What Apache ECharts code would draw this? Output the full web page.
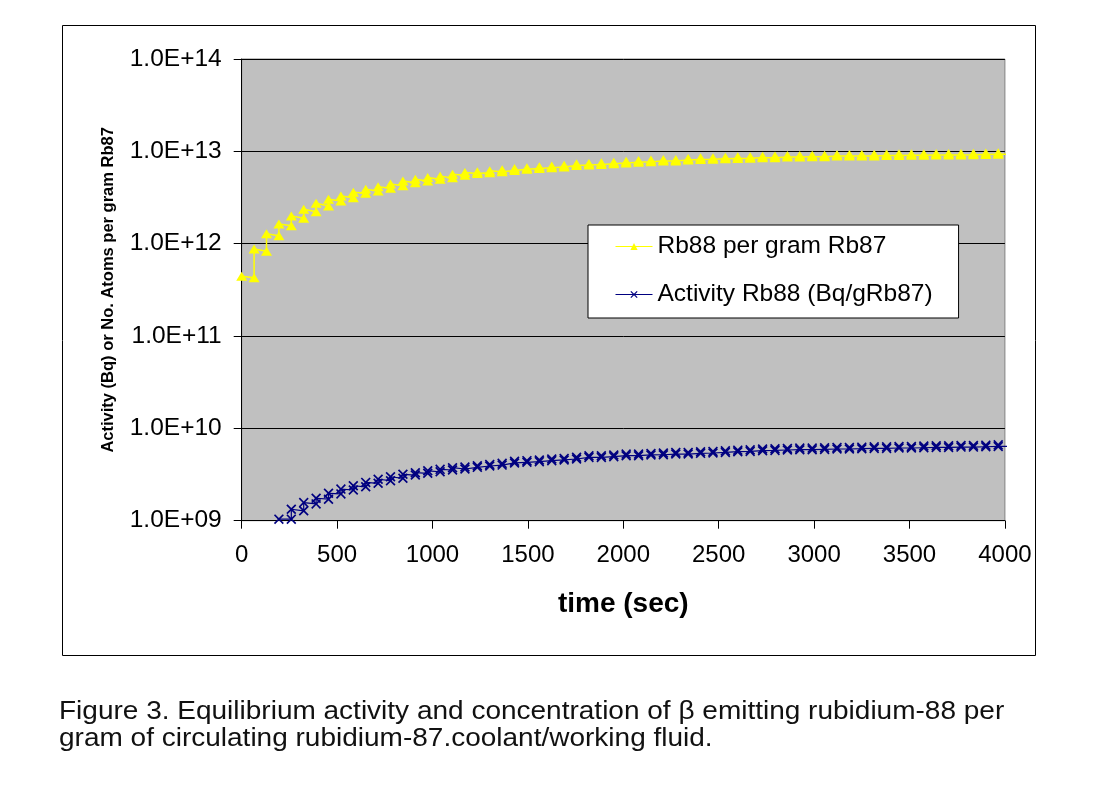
<!DOCTYPE html>
<html>
<head>
<meta charset="utf-8">
<script src="https://cdn.jsdelivr.net/npm/echarts@6/dist/echarts.min.js"></script>
<style>
html,body{margin:0;padding:0;background:#fff;}
#chart{width:1120px;height:791px;}
</style>
</head>
<body>
<div id="chart"></div>
<script>
// time (sec) of each sample: low point (end of decay) and high point (after activation) share a time
const timeSec = [
  0,
  65,65,130,130,195,195,260,260,325,325,390,390,455,455,520,520,585,585,650,650,
  715,715,780,780,845,845,910,910,975,975,1040,1040,1105,1105,1170,1170,1235,1235,1300,1300,
  1365,1365,1430,1430,1495,1495,1560,1560,1625,1625,1690,1690,1755,1755,1820,1820,1885,1885,1950,1950,
  2015,2015,2080,2080,2145,2145,2210,2210,2275,2275,2340,2340,2405,2405,2470,2470,2535,2535,2600,2600,
  2665,2665,2730,2730,2795,2795,2860,2860,2925,2925,2990,2990,3055,3055,3120,3120,3185,3185,3250,3250,
  3315,3315,3380,3380,3445,3445,3510,3510,3575,3575,3640,3640,3705,3705,3770,3770,3835,3835,3900,3900,
  3965,3965,4030
];

// Rb88 atoms per gram Rb87
const rb88PerGram = [
  4.45e11,
  4.28e11,8.77e11, 8.26e11,1.28e12, 1.22e12,1.63e12, 1.56e12,2.00e12, 1.89e12,2.36e12,
  2.22e12,2.74e12, 2.56e12,3.03e12, 2.90e12,3.28e12, 3.15e12,3.60e12, 3.51e12,3.88e12,
  3.72e12,4.14e12, 3.98e12,4.42e12, 4.24e12,4.76e12, 4.56e12,5.00e12, 4.76e12,5.21e12,
  5.00e12,5.38e12, 5.16e12,5.66e12, 5.52e12,5.90e12, 5.75e12,6.02e12, 5.85e12,6.15e12,
  6.02e12,6.30e12, 6.20e12,6.50e12, 6.38e12,6.66e12, 6.52e12,6.82e12, 6.65e12,6.92e12,
  6.78e12,7.06e12, 7.02e12,7.34e12, 7.10e12,7.40e12, 7.22e12,7.52e12, 7.32e12,7.64e12,
  7.50e12,7.82e12, 7.64e12,7.96e12, 7.72e12,8.04e12, 7.84e12,8.16e12, 7.86e12,8.18e12,
  8.04e12,8.36e12, 8.18e12,8.50e12, 8.20e12,8.52e12, 8.30e12,8.64e12, 8.38e12,8.72e12,
  8.42e12,8.76e12, 8.52e12,8.86e12, 8.54e12,8.88e12, 8.66e12,9.00e12, 8.68e12,9.02e12,
  8.72e12,9.06e12, 8.74e12,9.08e12, 8.88e12,9.22e12, 8.88e12,9.22e12, 8.90e12,9.24e12,
  8.92e12,9.28e12, 9.02e12,9.38e12, 9.04e12,9.40e12, 9.06e12,9.42e12, 9.08e12,9.44e12,
  9.10e12,9.46e12, 9.12e12,9.48e12, 9.14e12,9.50e12, 9.16e12,9.52e12, 9.26e12,9.62e12,
  9.28e12,9.64e12,
  9.30e12
];

// Activity Rb88 (Bq/gRb87); null = below the 1.0E+09 axis floor
const rb88Activity = [
  null,
  null,null, null,null, null,1.04e9, 1.04e9,1.33e9, 1.28e9,1.57e9,
  1.52e9,1.75e9, 1.71e9,1.98e9, 1.95e9,2.20e9, 2.15e9,2.39e9, 2.33e9,2.60e9,
  2.54e9,2.81e9, 2.71e9,2.99e9, 2.88e9,3.18e9, 3.12e9,3.31e9, 3.26e9,3.47e9,
  3.39e9,3.60e9, 3.54e9,3.75e9, 3.63e9,3.81e9, 3.78e9,3.94e9, 3.91e9,4.07e9,
  4.00e9,4.18e9, 4.22e9,4.40e9, 4.29e9,4.47e9, 4.36e9,4.54e9, 4.47e9,4.65e9,
  4.55e9,4.73e9, 4.66e9,4.86e9, 4.85e9,5.05e9, 4.85e9,5.05e9, 4.94e9,5.14e9,
  5.06e9,5.26e9, 5.06e9,5.26e9, 5.15e9,5.35e9, 5.18e9,5.40e9, 5.27e9,5.49e9,
  5.27e9,5.49e9, 5.36e9,5.58e9, 5.41e9,5.63e9, 5.49e9,5.71e9, 5.59e9,5.81e9,
  5.63e9,5.85e9, 5.73e9,5.97e9, 5.77e9,6.01e9, 5.83e9,6.07e9, 5.87e9,6.11e9,
  5.87e9,6.11e9, 5.92e9,6.16e9, 5.98e9,6.22e9, 5.98e9,6.22e9, 6.02e9,6.26e9,
  6.07e9,6.31e9, 6.07e9,6.31e9, 6.13e9,6.37e9, 6.13e9,6.37e9, 6.17e9,6.43e9,
  6.21e9,6.47e9, 6.21e9,6.47e9, 6.27e9,6.53e9, 6.27e9,6.53e9, 6.32e9,6.58e9,
  6.37e9,6.63e9,
  6.40e9
];

const seriesNames = ['Rb88 per gram Rb87', 'Activity Rb88 (Bq/gRb87)'];
const xTickValues = [0, 500, 1000, 1500, 2000, 2500, 3000, 3500, 4000];
const yTickLabels = ['1.0E+09','1.0E+10','1.0E+11','1.0E+12','1.0E+13','1.0E+14'];
const captionLines = [
  'Figure 3. Equilibrium activity and concentration of β emitting rubidium-88 per',
  'gram of circulating rubidium-87.coolant/working fluid.'
];

const FONT = "'Liberation Sans', Arial, sans-serif";
const xSymbol = 'path://M0,1.2L1.2,0L5,3.8L8.8,0L10,1.2L6.2,5L10,8.8L8.8,10L5,6.2L1.2,10L0,8.8L3.8,5Z';

const zip = (xs, ys) => xs.map((x, i) => [x, ys[i] == null ? null : ys[i]]);

const chart = echarts.init(document.getElementById('chart'), null, {renderer: 'canvas'});
chart.setOption({
  animation: false,
  backgroundColor: '#ffffff',
  grid: {
    left: 241.7, top: 59, right: 115.1, bottom: 270.3,
    show: true, backgroundColor: '#c0c0c0', borderColor: '#808080', borderWidth: 1
  },
  xAxis: {
    type: 'value', min: 0, max: 4000, interval: 500,
    name: 'time (sec)', nameLocation: 'middle', nameGap: 70,
    nameTextStyle: {fontFamily: FONT, fontSize: 28, fontWeight: 'bold', color: '#000'},
    axisLine: {show: true, onZero: false, lineStyle: {color: '#000', width: 1}},
    axisTick: {show: true, length: 8, lineStyle: {color: '#000'}},
    axisLabel: {
      margin: 23, fontFamily: FONT, fontSize: 24, color: '#000',
      formatter: v => xTickValues.indexOf(v) >= 0 ? String(v) : ''
    },
    splitLine: {show: false}
  },
  yAxis: {
    type: 'log', logBase: 10, min: 1e9, max: 1e14,
    name: 'Activity (Bq) or No. Atoms per gram Rb87', nameLocation: 'middle', nameGap: 125,
    nameTextStyle: {fontFamily: FONT, fontSize: 16.5, fontWeight: 'bold', color: '#000'},
    axisLine: {show: true, lineStyle: {color: '#000', width: 1}},
    axisTick: {show: true, length: 8, lineStyle: {color: '#000'}},
    axisLabel: {
      margin: 20, fontFamily: FONT, fontSize: 24.5, color: '#000',
      formatter: v => yTickLabels[Math.round(Math.log10(v)) - 9] || ''
    },
    splitLine: {show: true, lineStyle: {color: '#000', width: 1}},
    minorTick: {show: false}, minorSplitLine: {show: false}
  },
  legend: {
    orient: 'vertical', left: 588, top: 225,
    data: seriesNames,
    backgroundColor: '#ffffff', borderColor: '#000', borderWidth: 1,
    padding: [9, 26, 11, 27], itemGap: 23, itemWidth: 37, itemHeight: 9,
    lineStyle: {width: 1},
    textStyle: {fontFamily: FONT, fontSize: 24.5, color: '#000'}
  },
  series: [
    {
      name: seriesNames[0], type: 'line',
      data: zip(timeSec, rb88PerGram),
      symbol: 'triangle', symbolSize: [11, 9], showAllSymbol: true,
      itemStyle: {color: '#ffff00'},
      lineStyle: {color: '#ffff00', width: 1.5},
      clip: true, z: 3
    },
    {
      name: seriesNames[1], type: 'line',
      data: zip(timeSec, rb88Activity),
      symbol: xSymbol, symbolSize: 10, showAllSymbol: true,
      itemStyle: {color: '#000080'},
      lineStyle: {color: '#000080', width: 1.2},
      connectNulls: false, clip: true, z: 3
    }
  ],
  graphic: [
    {type: 'rect', shape: {x: 62.5, y: 25.5, width: 973, height: 630},
     style: {fill: null, stroke: '#000', lineWidth: 1}, z: -1, silent: true},
    {type: 'text', x: 59, y: 712, scaleX: 1.12,
     style: {text: captionLines[0], x: 0, y: 0, verticalAlign: 'middle', font: "25px 'Liberation Sans', Arial, sans-serif", fill: '#111'}},
    {type: 'text', x: 59, y: 739, scaleX: 1.12,
     style: {text: captionLines[1], x: 0, y: 0, verticalAlign: 'middle', font: "25px 'Liberation Sans', Arial, sans-serif", fill: '#111'}}
  ]
});
</script>
</body>
</html>
